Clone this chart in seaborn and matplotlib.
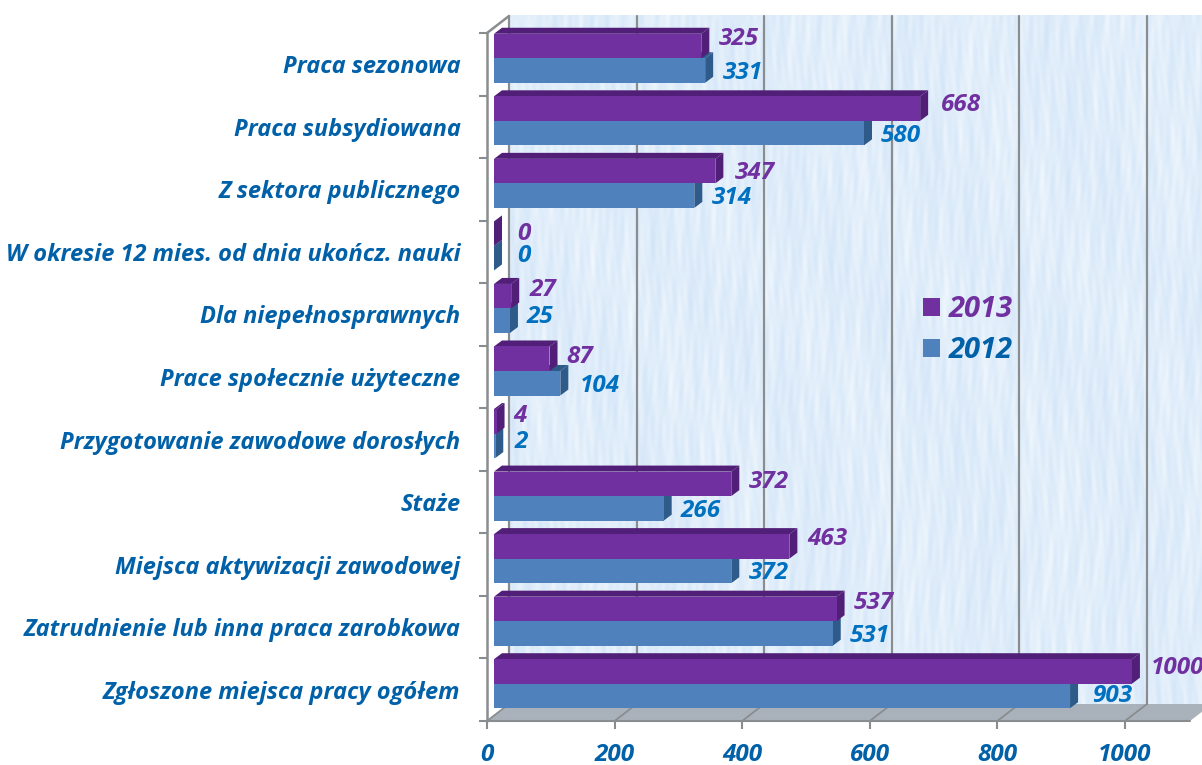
import numpy as np
import pandas as pd
import seaborn as sns
import matplotlib.pyplot as plt
from matplotlib.colors import LinearSegmentedColormap

categories = ["Praca sezonowa", "Praca subsydiowana", "Z sektora publicznego",
              "W okresie 12 mies. od dnia ukończ. nauki", "Dla niepełnosprawnych",
              "Prace społecznie użyteczne", "Przygotowanie zawodowe dorosłych", "Staże",
              "Miejsca aktywizacji zawodowej", "Zatrudnienie lub inna praca zarobkowa",
              "Zgłoszone miejsca pracy ogółem"]
values_2013 = [325, 668, 347, 0, 27, 87, 4, 372, 463, 537, 1000]
values_2012 = [331, 580, 314, 0, 25, 104, 2, 266, 372, 531, 903]
x_ticks = [0, 200, 400, 600, 800, 1000]

# przesuniecia etykiet wartosci (piksele)
nudge_x_2013 = [10, 13, 11, 15, 10, 9, 9, 10, 10, 9, 11]
nudge_y_2013 = [7, 4, -2, 0, 6, 2, 5, 2, 7, 6, 3]
nudge_x_2012 = [10, 9, 10, 15, 9, 11, 11, 9, 10, 9, 15]
nudge_y_2012 = [-2, -3, -2, 2, 4, -3, 4, -3, -2, -3, 0]

PURPLE, PURPLE_DARK = "#7030a0", "#511f78"
BLUE, BLUE_DARK = "#4f81bd", "#2f5b8a"
GREY = "#8a8d90"
LABEL_BLUE = "#0060a8"

sns.set_theme(style="white")
plt.rcParams["font.family"] = ["Open Sans", "DejaVu Sans"]

W, H = 1202, 765
fig = plt.figure(figsize=(W / 100, H / 100), dpi=100, facecolor="white")

# tylna sciana z tekstura (pionowe smugi)
wall = fig.add_axes([509 / W, 1 - 705 / H, (W - 509) / W, 690 / H], zorder=0)
yy, xx = np.mgrid[0:690, 0:693]
tex = (np.sin(xx * 0.37 + 1.6 * np.sin(yy * 0.023)) * np.sin(yy * 0.041 + xx * 0.013)
       + 0.8 * np.sin(xx * 0.83 + 2.1 * np.sin(yy * 0.031 + 1.0)) * np.sin(yy * 0.067 - xx * 0.029)
       + 0.7 * np.sin(xx * 0.09 + 1.3 * np.sin(yy * 0.011)) * np.sin(yy * 0.017 + xx * 0.05))
cmap = LinearSegmentedColormap.from_list("wall", ["#d3e5f8", "#e0edfa", "#f0f7fd"])
wall.imshow(tex, cmap=cmap, aspect="auto", interpolation="bilinear")
wall.axis("off")

ax = fig.add_axes([487 / W, 1 - 721 / H, 703 / W, 688 / H], zorder=1)
ax.patch.set_alpha(0)

df = pd.DataFrame({"kategoria": categories * 2,
                   "rok": ["2013"] * 11 + ["2012"] * 11,
                   "liczba": values_2013 + values_2012})
sns.barplot(data=df, y="kategoria", x="liczba", hue="rok", hue_order=["2013", "2012"],
            palette=[PURPLE, BLUE], width=0.784, saturation=1, ax=ax, zorder=3,
            edgecolor="none", linewidth=0)

ax.set_xlim(0, 1102)
ax.set_ylim(10.5, -0.5)

# przeliczenie pikseli na jednostki danych
px_x = 1102 / 703
px_y = 11 / 688
back_x, back_y = 22 * px_x, 17 * px_y
shift_x, shift_y = 7 * px_x, 6 * px_y
depth_x, depth_y = 8 * px_x, 6 * px_y

# podloga
x_end = 1102
ax.fill([0, back_x, x_end + back_x, x_end], [10.5, 10.5 - back_y, 10.5 - back_y, 10.5],
        color="#a9b2ba", clip_on=False, zorder=1, lw=0)
ax.plot([0, x_end], [10.5, 10.5], color=GREY, lw=1.5, clip_on=False, zorder=2)

# siatka
for t in x_ticks:
    ax.plot([t + back_x] * 2, [-0.5 - back_y, 10.5 - back_y], color=GREY, lw=1.6,
            clip_on=False, zorder=1.5)
    ax.plot([t, t + back_x], [10.5, 10.5 - back_y], color=GREY, lw=1.3,
            clip_on=False, zorder=1.5)
ax.plot([0, back_x], [-0.5, -0.5 - back_y], color=GREY, lw=1.8, clip_on=False, zorder=1.5)
ax.plot([0, 0], [-0.5, 10.5], color=GREY, lw=1.8, clip_on=False, zorder=2)

# slupki 3D + etykiety
sets = [(ax.containers[1], BLUE_DARK, "#0070c0", nudge_x_2012, nudge_y_2012, values_2012, 3.0),
        (ax.containers[0], PURPLE_DARK, "#7030a0", nudge_x_2013, nudge_y_2013, values_2013, 3.2)]
for bars, dark, text_color, nx, ny, vals, z in sets:
    for bar, v, dx, dy in zip(bars, vals, nx, ny):
        bar.set_x(bar.get_x() + shift_x)
        bar.set_y(bar.get_y() - shift_y)
        bar.set_zorder(z + 0.05)
        x0, x1 = bar.get_x(), bar.get_x() + bar.get_width()
        top, bottom = bar.get_y(), bar.get_y() + bar.get_height()
        ax.fill([x0, x0 + depth_x, x1 + depth_x, x1], [top, top - depth_y, top - depth_y, top],
                color=dark, lw=0, zorder=z, clip_on=False)
        ax.fill([x1, x1 + depth_x, x1 + depth_x, x1], [top, top - depth_y, bottom - depth_y, bottom],
                color=dark, lw=0, zorder=z, clip_on=False)
        ax.annotate(str(v), xy=(x1 + depth_x, (top + bottom) / 2), xytext=(dx * 0.72, dy * 0.72),
                    textcoords="offset points", ha="left", va="center", color=text_color,
                    fontsize=17.5, fontweight="bold", fontstyle="italic", annotation_clip=False, zorder=6)

sns.despine(ax=ax, left=True, bottom=True, top=True, right=True)
ax.set_xlabel("")
ax.set_ylabel("")
ax.set_xticks(x_ticks)
ax.tick_params(axis="x", length=5.5, width=1.5, color=GREY, pad=10, bottom=True, labelsize=17.5, labelcolor=LABEL_BLUE)
ax.set_yticks(np.arange(-0.5, 11), minor=True)
ax.tick_params(axis="y", which="major", length=0, pad=19, labelsize=17, labelcolor=LABEL_BLUE)
ax.tick_params(axis="y", which="minor", length=5.5, width=1.5, color=GREY, left=True)
for lab in ax.get_xticklabels() + ax.get_yticklabels():
    lab.set_fontweight("bold")
    lab.set_fontstyle("italic")

handles, labels = ax.get_legend_handles_labels()
leg = ax.legend(handles, labels, loc="center left", bbox_to_anchor=((923 - 487) / 703, 1 - (330 - 33) / 688),
                frameon=False, handlelength=0.57, handleheight=0.57, handletextpad=0.3,
                labelspacing=0.42, borderaxespad=0, borderpad=0,
                prop={"size": 21, "weight": "bold", "style": "italic"})
for txt, col in zip(leg.get_texts(), ["#7030a0", LABEL_BLUE]):
    txt.set_color(col)
leg.set_zorder(7)

fig.savefig("out.png", dpi=100)
